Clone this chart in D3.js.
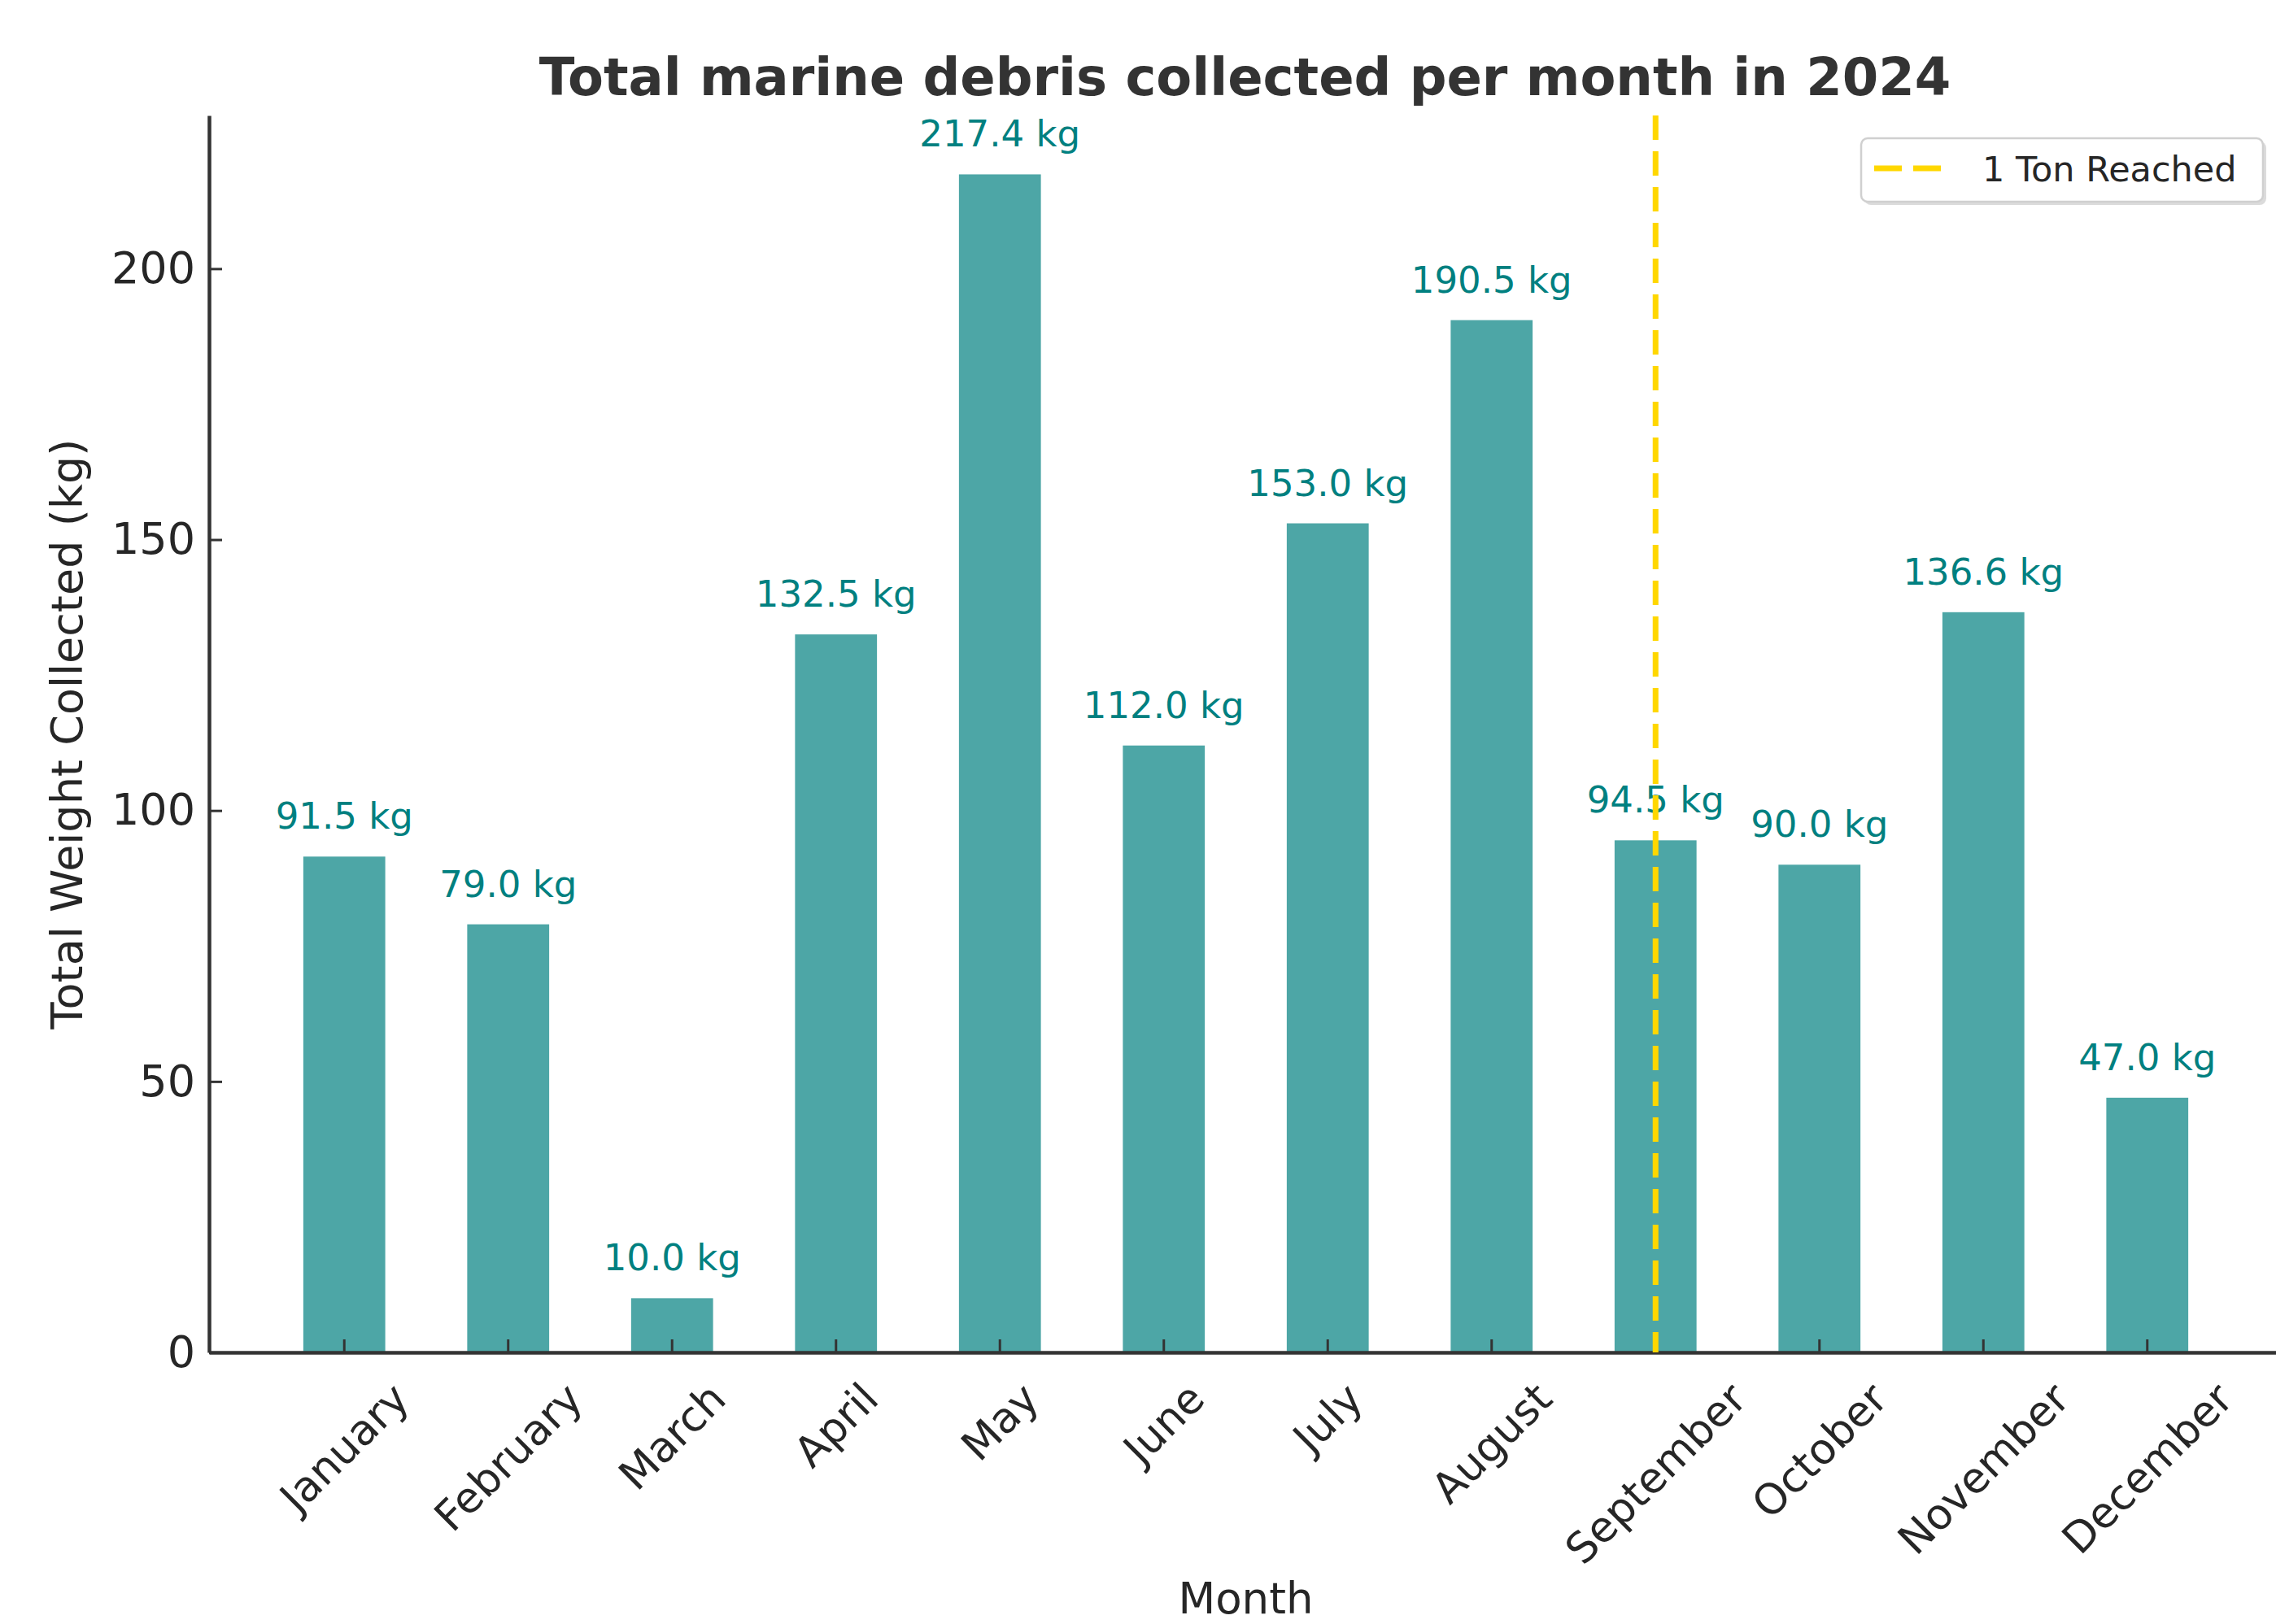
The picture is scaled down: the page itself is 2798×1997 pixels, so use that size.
<!DOCTYPE html>
<html>
<head>
<meta charset="utf-8">
<script src="https://cdn.jsdelivr.net/npm/d3@7"></script>
<style>
  html, body { margin: 0; padding: 0; background: #ffffff; }
  svg { display: block; font-family: "DejaVu Sans", sans-serif; }
</style>
</head>
<body>
<script>
// ---- data ----
const months = ["January","February","March","April","May","June","July","August","September","October","November","December"];
const weights = [91.5, 79.0, 10.0, 132.5, 217.4, 112.0, 153.0, 190.5, 94.5, 90.0, 136.6, 47.0];
const yTicks = [0, 50, 100, 150, 200];
const milestoneMonth = "September";
const legendLabel = "1 Ton Reached";
const titleText = "Total marine debris collected per month in 2024";
const xLabel = "Month";
const yLabel = "Total Weight Collected (kg)";

// ---- layout ----
const W = 2798, H = 1997;
const plotL = 257, plotR = 2806, plotT = 142, plotB = 1663;

const svg = d3.select("body").append("svg").attr("width", W).attr("height", H);

const x = d3.scaleBand().domain(months).range([plotL, plotR])
  .paddingInner(0.5).paddingOuter(0.575);
const yMax = d3.max(weights) * 1.05;
const y = d3.scaleLinear().domain([0, yMax]).range([plotB, plotT]);

// bars
svg.append("g").selectAll("rect").data(weights).join("rect")
  .attr("x", (d, i) => x(months[i]))
  .attr("width", x.bandwidth())
  .attr("y", d => y(d))
  .attr("height", d => y(0) - y(d))
  .attr("fill", "#4da6a6");

// value labels
svg.append("g").selectAll("text").data(weights).join("text")
  .attr("x", (d, i) => x(months[i]) + x.bandwidth() / 2)
  .attr("y", d => y(d) - 34)
  .attr("text-anchor", "middle")
  .attr("font-size", 45)
  .attr("fill", "#008080")
  .text(d => d.toFixed(1) + " kg");

// y axis
const yAxis = svg.append("g").attr("transform", `translate(${plotL},0)`)
  .call(d3.axisLeft(y).tickValues(yTicks).tickSizeInner(-16).tickSizeOuter(0).tickPadding(17));
yAxis.select(".domain").attr("stroke", "#333").attr("stroke-width", 4.5);
yAxis.selectAll(".tick line").attr("stroke", "#333").attr("stroke-width", 3);
yAxis.selectAll(".tick text").attr("font-size", 54).attr("fill", "#262626")
  .attr("font-family", "DejaVu Sans");

// x axis
const xAxis = svg.append("g").attr("transform", `translate(0,${plotB})`)
  .call(d3.axisBottom(x).tickSizeInner(-16).tickSizeOuter(0));
xAxis.select(".domain").attr("stroke", "#333").attr("stroke-width", 4.5);
xAxis.selectAll(".tick line").attr("stroke", "#333").attr("stroke-width", 3);
const fsX = 52;
xAxis.selectAll(".tick text")
  .attr("font-size", fsX).attr("fill", "#262626").attr("font-family", "DejaVu Sans")
  .attr("text-anchor", "middle")
  .each(function () {
    const t = d3.select(this);
    const w = this.getComputedTextLength();
    const hgt = fsX * 1.05;
    const Hb = (w + hgt) * Math.SQRT1_2;
    const cy = 28 + Hb / 2;
    t.attr("x", 0).attr("y", 0).attr("dy", "0.35em")
     .attr("transform", `translate(0,${cy}) rotate(-45)`);
  });

// milestone line
const mx = x(milestoneMonth) + x.bandwidth() / 2;
svg.append("line")
  .attr("x1", mx).attr("x2", mx)
  .attr("y1", plotT).attr("y2", plotB)
  .attr("stroke", "#ffd700").attr("stroke-width", 7)
  .attr("stroke-dasharray", "30,14");

// title
svg.append("text").attr("x", (plotL + plotR) / 2 - 1).attr("y", 117)
  .attr("text-anchor", "middle").attr("font-size", 64).attr("font-weight", "bold")
  .attr("fill", "#333").text(titleText);

// axis labels
svg.append("text").attr("x", (plotL + plotR) / 2).attr("y", 1984)
  .attr("text-anchor", "middle").attr("font-size", 53).attr("fill", "#262626").text(xLabel);
svg.append("text").attr("transform", `translate(101,${(plotT + plotB) / 2}) rotate(-90)`)
  .attr("text-anchor", "middle").attr("font-size", 54).attr("fill", "#262626").text(yLabel);

// legend
const lg = svg.append("g");
lg.append("rect").attr("x", 2292).attr("y", 174).attr("width", 494).attr("height", 78)
  .attr("rx", 8).attr("fill", "#999").attr("opacity", 0.35);
lg.append("rect").attr("x", 2288).attr("y", 170).attr("width", 494).attr("height", 78)
  .attr("rx", 8).attr("fill", "#fff").attr("stroke", "#d0d0d0").attr("stroke-width", 2.5);
lg.append("line").attr("x1", 2304).attr("x2", 2386).attr("y1", 207).attr("y2", 207)
  .attr("stroke", "#ffd700").attr("stroke-width", 7).attr("stroke-dasharray", "34,14");
lg.append("text").attr("x", 2437).attr("y", 223).attr("font-size", 43)
  .attr("fill", "#262626").text(legendLabel);
</script>
</body>
</html>
